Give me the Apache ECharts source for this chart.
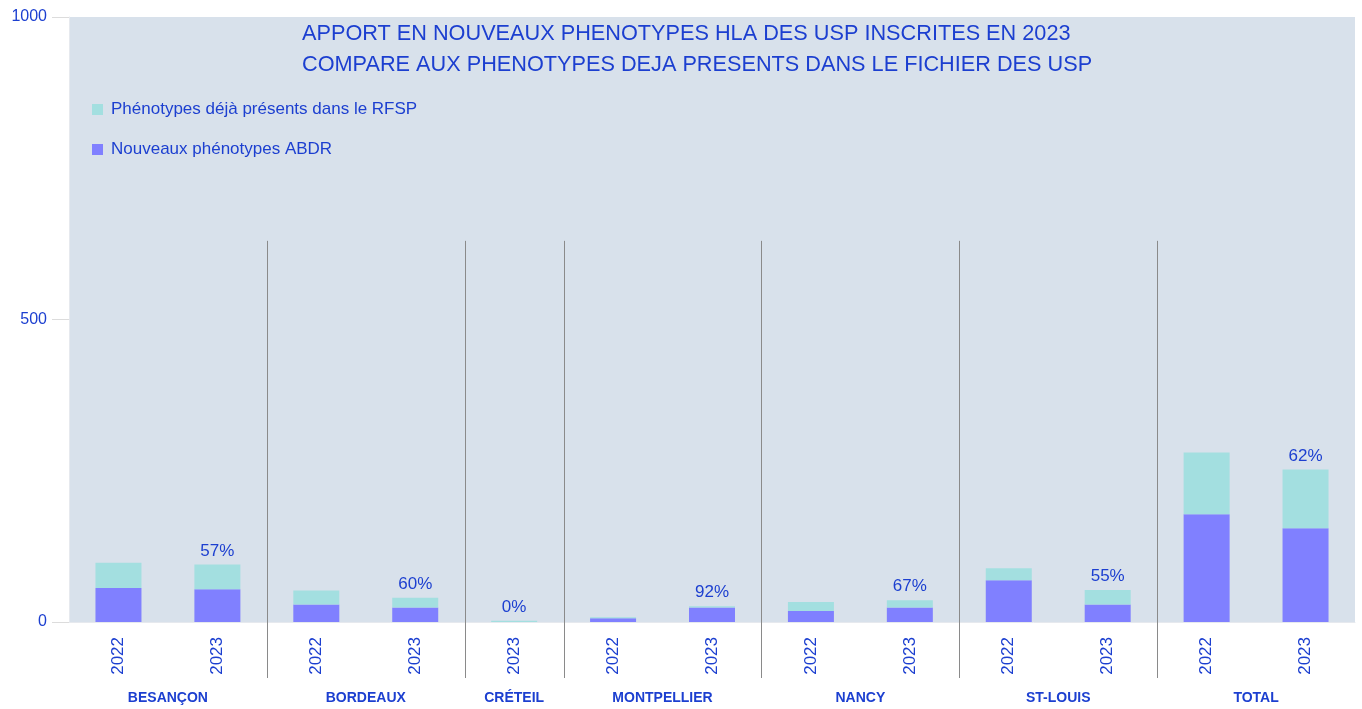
<!DOCTYPE html>
<html>
<head>
<meta charset="utf-8">
<script src="https://cdn.jsdelivr.net/npm/echarts@6/dist/echarts.min.js"></script>
<style>
  html, body { margin: 0; padding: 0; background: #fff; }
  #chart { width: 1362px; height: 709px; }
</style>
</head>
<body>
<div id="chart"></div>
<script>
// données
const cities = ['BESANÇON', 'BESANÇON', 'BORDEAUX', 'BORDEAUX', 'CRÉTEIL', 'MONTPELLIER', 'MONTPELLIER',
  'NANCY', 'NANCY', 'ST-LOUIS', 'ST-LOUIS', 'TOTAL', 'TOTAL']
const years = ['2022', '2023', '2022', '2023', '2023', '2022', '2023', '2022', '2023', '2022', '2023', '2022', '2023']
const newPheno = [56, 54, 29, 24, 0, 6, 24, 18, 24, 69, 29, 178, 155]
const existingPheno = [42, 41, 23, 16, 2, 2, 2, 15, 12, 20, 24, 102, 97]
const pctLabels = [null, '57%', null, '60%', '0%', null, '92%', null, '67%', null, '55%', null, '62%']
const yTicks = [0, 500, 1000]

const blue = '#1c3fd0'
const font = 'Liberation Sans'
const categories = cities.map((c, i) => c + '|' + years[i])
// début de chaque groupe (sauf le premier) -> ligne de séparation
const groupStarts = cities.map((c, i) => i).filter(i => i > 0 && cities[i] !== cities[i - 1])
const sepTopValue = 630  // hauteur (en unités de l'axe) où commencent les séparateurs
const sepBelow = 56      // longueur sous l'axe, en px

const chart = echarts.init(document.getElementById('chart'))
const gridLeft = 69
const gridRight = 7
const bandW = (1362 - gridLeft - gridRight) / categories.length

const option = {
  animation: false,
  title: {
    text: 'APPORT EN NOUVEAUX PHENOTYPES HLA DES USP INSCRITES EN 2023\nCOMPARE AUX PHENOTYPES DEJA PRESENTS DANS LE FICHIER DES USP',
    left: 297,
    top: 14,
    textStyle: {
      color: blue,
      fontFamily: font,
      fontWeight: 'normal',
      fontSize: 21.7,
      lineHeight: 31
    }
  },
  legend: {
    orient: 'vertical',
    left: 87,
    top: 96,
    itemWidth: 11,
    itemHeight: 11,
    itemGap: 23,
    icon: 'rect',
    data: ['Phénotypes déjà présents dans le RFSP', 'Nouveaux phénotypes ABDR'],
    textStyle: { color: blue, fontFamily: font, fontSize: 17, padding: [0, 0, 0, 3] }
  },
  grid: {
    left: gridLeft,
    right: gridRight,
    top: 17,
    bottom: 87,
    show: true,
    backgroundColor: '#d8e1eb',
    borderWidth: 0
  },
  xAxis: [
    {
      type: 'category',
      data: categories,
      axisLine: { lineStyle: { color: '#e6e9ee' } },
      axisTick: { show: false },
      axisLabel: {
        interval: 0,
        rotate: 90,
        margin: 15,
        color: blue,
        fontFamily: font,
        fontSize: 17,
        formatter: (v) => v.split('|')[1]
      }
    },
    {
      type: 'category',
      data: categories,
      position: 'bottom',
      offset: 62,
      axisLine: { show: false },
      axisTick: { show: false },
      axisLabel: {
        interval: 0,
        margin: 7,
        formatter: (v, i) => {
          if (i > 0 && cities[i] === cities[i - 1]) return ''
          const two = cities[i + 1] === cities[i]
          return two ? '{w|' + cities[i] + '}' : '{s|' + cities[i] + '}'
        },
        rich: {
          w: {
            color: blue, fontFamily: font, fontWeight: 'bold', fontSize: 14,
            padding: [0, 0, 0, bandW]
          },
          s: { color: blue, fontFamily: font, fontWeight: 'bold', fontSize: 14 }
        }
      }
    }
  ],
  yAxis: {
    type: 'value',
    min: yTicks[0],
    max: yTicks[yTicks.length - 1],
    interval: 500,
    splitLine: { show: false },
    axisLine: { show: true, lineStyle: { color: '#e6e9ee' } },
    axisTick: { show: true, length: 17, lineStyle: { color: '#dcdcdc' } },
    axisLabel: {
      color: blue, fontFamily: font, fontSize: 16, margin: 22,
      formatter: (v) => String(v)
    }
  },
  series: [
    {
      name: 'Nouveaux phénotypes ABDR',
      type: 'bar',
      stack: 'total',
      barWidth: 46,
      data: newPheno,
      itemStyle: { color: '#8080ff' }
    },
    {
      name: 'Phénotypes déjà présents dans le RFSP',
      type: 'bar',
      stack: 'total',
      barWidth: 46,
      data: existingPheno,
      itemStyle: { color: '#a3dfe0' },
      label: {
        show: true,
        position: 'top',
        distance: 5,
        color: blue,
        fontFamily: font,
        fontSize: 17,
        formatter: (p) => pctLabels[p.dataIndex] || ''
      }
    },
    {
      // lignes verticales entre les groupes
      type: 'custom',
      silent: true,
      clip: false,
      data: groupStarts.map(i => [i, 0]),
      encode: { x: 0, y: 1 },
      renderItem: (params, api) => {
        const base = api.coord([api.value(0), 0])
        const top = api.coord([api.value(0), sepTopValue])
        const band = api.size([1, 0])[0]
        const x = Math.round(base[0] - band / 2) + 0.5
        return {
          type: 'line',
          shape: { x1: x, y1: top[1], x2: x, y2: base[1] + sepBelow },
          style: { stroke: '#8a8a8a', lineWidth: 1 }
        }
      }
    }
  ]
}

chart.setOption(option)
</script>
</body>
</html>
